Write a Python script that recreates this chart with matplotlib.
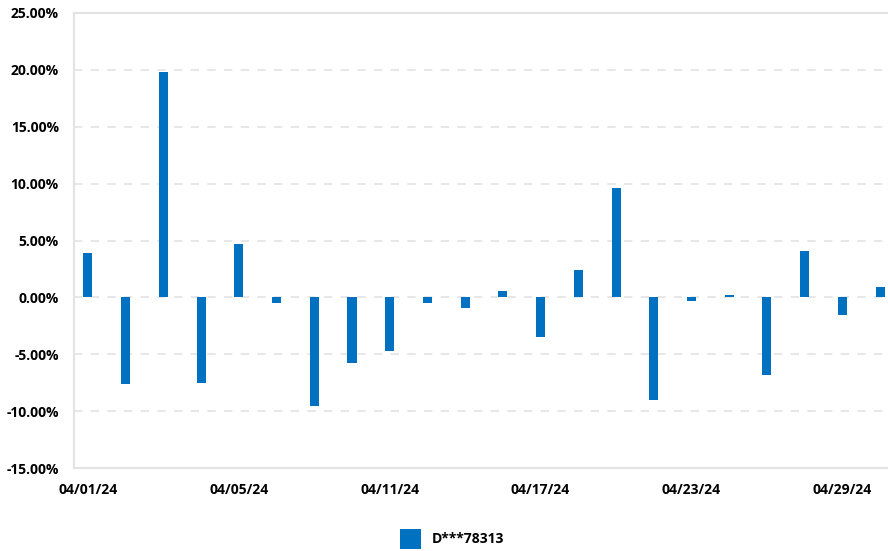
import numpy as np
import matplotlib.pyplot as plt
from matplotlib.ticker import FuncFormatter, MultipleLocator

plt.rcParams['font.family'] = ['Open Sans', 'DejaVu Sans']

dates = ['04/01/24', '04/02/24', '04/03/24', '04/04/24', '04/05/24', '04/08/24',
         '04/09/24', '04/10/24', '04/11/24', '04/12/24', '04/15/24', '04/16/24',
         '04/17/24', '04/18/24', '04/19/24', '04/22/24', '04/23/24', '04/24/24',
         '04/25/24', '04/26/24', '04/29/24', '04/30/24']
returns = [3.92, -7.6, 19.81, -7.5, 4.7, -0.47, -9.53, -5.75, -4.7, -0.47, -0.91, 0.55,
           -3.49, 2.4, 9.6, -9.0, -0.3, 0.23, -6.8, 4.07, -1.53, 0.93]
series_name = 'D***78313'

color = '#0070c0'
grid_c = '#e3e3e3'

fig = plt.figure(figsize=(8.88, 5.51), dpi=100)
ax = fig.add_axes([74/888, 1-468/551, 1-74/888, (468-13)/551])

x = np.arange(len(dates))
bars = ax.bar(x, returns, width=0.24, color=color, label=series_name, zorder=3)

ax.set_ylim(-15, 25)
ax.set_xlim(-0.37, 21.21)
ax.yaxis.set_major_locator(MultipleLocator(5))
ax.yaxis.set_major_formatter(FuncFormatter(lambda v, p: '%.2f%%' % v))
ax.grid(axis='y', color=grid_c, linestyle=(0, (5, 5)), linewidth=1.2, zorder=0)

ax.set_xticks(x[::4])
ax.set_xticklabels(dates[::4])

ax.spines['right'].set_visible(False)
for s in ['left', 'bottom', 'top']:
    ax.spines[s].set_color(grid_c)
    ax.spines[s].set_linewidth(1.5)

ax.tick_params(axis='both', length=0, labelsize=10, colors='black')
ax.tick_params(axis='y', pad=11)
ax.tick_params(axis='x', pad=11)
for lab in ax.get_xticklabels() + ax.get_yticklabels():
    lab.set_fontweight('bold')

leg = fig.legend(handles=[bars], labels=[series_name], loc='center',
                 bbox_to_anchor=(452/888, 1-539/551), frameon=False,
                 handlelength=1.5, handleheight=1.9, handletextpad=0.8,
                 prop={'size': 10, 'weight': 'bold'})

fig.savefig('out.png', dpi=100)
